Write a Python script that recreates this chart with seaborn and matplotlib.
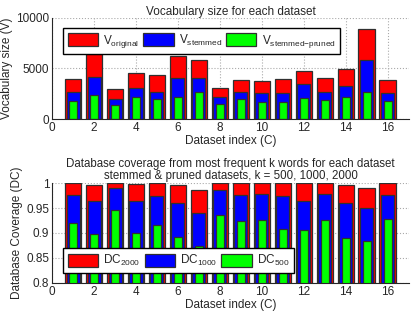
import seaborn as sns
import matplotlib.pyplot as plt
import pandas as pd

datasets = list(range(1, 17))

# vocabulary sizes
v_original = [3950, 6420, 3010, 4540, 4350, 6230, 5830, 3060, 3880, 3740, 3950, 4700, 4040, 4930, 8900, 3840]
v_stemmed = [2650, 4200, 1990, 3110, 2720, 4040, 4100, 2150, 2650, 2560, 2560, 3480, 2720, 3310, 5830, 2620]
v_pruned = [1820, 2380, 1420, 2150, 1990, 2220, 2650, 1490, 1950, 1720, 1720, 2050, 1920, 2220, 2650, 1820]

# database coverage
dc_2000 = [1.0, 0.997, 1.0, 0.999, 1.0, 0.997, 0.987, 1.0, 1.0, 1.0, 1.0, 1.0, 1.0, 0.997, 0.991, 1.0]
dc_1000 = [0.977, 0.964, 0.990, 0.964, 0.974, 0.961, 0.941, 0.987, 0.977, 0.979, 0.974, 0.964, 0.979, 0.961, 0.951, 0.977]
dc_500 = [0.921, 0.898, 0.947, 0.900, 0.916, 0.891, 0.873, 0.937, 0.924, 0.927, 0.908, 0.905, 0.927, 0.889, 0.883, 0.929]

sns.set_style("white")
plt.rcParams["font.family"] = ["Liberation Sans", "DejaVu Sans"]
plt.rcParams["mathtext.default"] = "regular"
plt.rcParams["font.size"] = 8

df_v = pd.DataFrame({"C": datasets, "orig": v_original, "stem": v_stemmed, "prune": v_pruned})
df_dc = pd.DataFrame({"C": datasets, "d2000": dc_2000, "d1000": dc_1000, "d500": dc_500})

fig = plt.figure(figsize=(4.13, 3.14), dpi=100)
ax1 = fig.add_axes([0.126, 0.621, 0.864, 0.322])
ax2 = fig.add_axes([0.126, 0.099, 0.864, 0.318])

edge = dict(edgecolor="#303030", linewidth=0.9)


def draw_bars(ax, df, cols, labels):
    widths = [0.8, 0.62, 0.4]
    colors = ["#ff0000", "#0000ff", "#00ff00"]
    for col, lab, w, c in zip(cols, labels, widths, colors):
        sns.barplot(data=df, x="C", y=col, native_scale=True, width=w, color=c,
                    saturation=1, label=lab, ax=ax, **edge)


draw_bars(ax1, df_v, ["orig", "stem", "prune"],
          ["V$_{original}$", "V$_{stemmed}$", "V$_{stemmed{-}pruned}$"])
draw_bars(ax2, df_dc, ["d2000", "d1000", "d500"],
          ["DC$_{2000}$", "DC$_{1000}$", "DC$_{500}$"])

leg_kw = dict(ncol=3, fancybox=False, edgecolor="black", handlelength=2.55,
              handleheight=1.3, columnspacing=0.35, handletextpad=0.45,
              borderpad=0.4, fontsize=8.5, framealpha=1)

for ax in (ax1, ax2):
    ax.set_xlim(0, 17)
    ax.set_xticks(range(0, 17, 2))
    ax.set_xlabel("Dataset index (C)", fontsize=8.5, labelpad=1)
    ax.tick_params(direction="in", length=3, labelsize=8.5, pad=2)
    ax.grid(True, linestyle=":", color="#aaaaaa", linewidth=0.8)
    ax.set_axisbelow(True)
    sns.despine(ax=ax)

ax1.set_ylim(0, 10000)
ax1.set_yticks([0, 5000, 10000])
ax1.set_ylabel("Vocabulary size (V)", fontsize=8.5, labelpad=2)
ax1.set_title("Vocabulary size for each dataset", fontsize=8.5, pad=2)
ax1.legend(loc="upper left", bbox_to_anchor=(0.015, 0.96), **leg_kw)

ax2.set_ylim(0.8, 1.0)
ax2.set_yticks([0.8, 0.85, 0.9, 0.95, 1.0])
ax2.set_yticklabels(["0.8", "0.85", "0.9", "0.95", "1"])
ax2.set_ylabel("Database Coverage (DC)", fontsize=8.5, labelpad=2)
ax2.set_title("Database coverage from most frequent k words for each dataset\n"
              "stemmed & pruned datasets, k = 500, 1000, 2000", fontsize=8.3, pad=3,
              linespacing=1.0)
ax2.legend(loc="lower left", bbox_to_anchor=(0.015, 0.04), **leg_kw)

fig.savefig("out.png", dpi=100)
